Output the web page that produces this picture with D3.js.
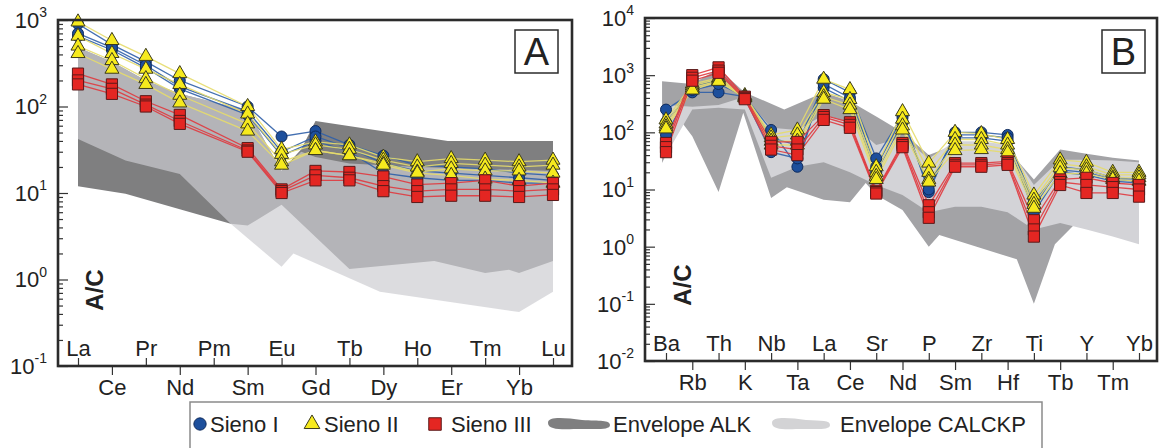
<!DOCTYPE html>
<html><head><meta charset="utf-8">
<script src="https://cdn.jsdelivr.net/npm/d3@7"></script>
<style>
body{margin:0;background:#fff}
svg{display:block}
text{font-family:Arial,"Liberation Sans",sans-serif;fill:#222}
</style>
</head><body>
<svg id="c" width="1159" height="448"></svg>
<script>
// ---------------- DATA ----------------
const reeElements = ["La","Ce","Pr","Nd","Pm","Sm","Eu","Gd","Tb","Dy","Ho","Er","Tm","Yb","Lu"];
// Pm not analysed -> null
const reeSienoI = [
  [900,520,330,200,null,100,45,52,36,27,21,20,19,17,16],
  [650,450,280,160,null,80,27,40,30,17,15,14,14,13,13],
  [700,480,300,170,null,88,30,45,33,22,18,17,16,15,14]
];
const reeSienoII = [
  [950,580,380,240,null,100,32,39,36,26,23,25,24,23,24],
  [650,410,270,180,null,82,28,36,32,24,20,22,21,20,21],
  [500,340,210,135,null,63,23,31,27,22,17.5,19,18,18,17],
  [410,270,180,110,null,52,21,31,27,21,17,16,14.5,14,13]
];
const reeSienoIII = [
  [240,180,115,80,null,33,11,18,17.5,15.5,12.5,13,14,12,13],
  [200,160,105,68,null,31,10.5,16,15,12,10.5,11,11,10.5,11],
  [180,140,100,63,null,30,10,14,14,10.5,9,9.3,9.3,9,9.5]
];
// envelopes [element index, value]
const reeAlkUpper = [[0,480],[1,330],[2,200],[3,140],[5,90],[6,18],[6.58,32],[7,68],[10.9,40],[14,40]];
const reeAlkLower = [[0,12],[1.4,9.8],[3,6.5],[4.5,4.4],[5,4.2],[6,7.3],[8,1.32],[10.5,1.64],[12,1.19],[12.7,1.3],[13,1.19],[14,1.64]];
const reeCalcUpper = [[0,480],[1,330],[2,200],[3,140],[5,90],[6,18],[6.58,30],[7,26],[8,22],[10,20],[14,18]];
const reeCalcLower = [[0,42],[1.4,23.7],[3,16.6],[4.5,4.4],[6,1.4],[6.35,2.0],[8.9,0.72],[13,0.42],[14,0.72]];

const spiderElements = ["Ba","Rb","Th","K","Nb","Ta","La","Ce","Sr","Nd","P","Sm","Zr","Hf","Ti","Tb","Y","Tm","Yb"];
const spiderSienoI = [
  [250,500,500,420,110,25,850,500,35,200,9,100,100,90,5,25,22,16,15],
  [90,650,800,400,45,35,600,350,20,150,12,80,80,70,4,20,18,14,13],
  [150,550,700,430,80,60,700,400,25,180,10,90,90,80,6,22,20,15,14]
];
const spiderSienoII = [
  [165,700,900,440,90,110,850,560,25,230,29,100,95,75,8,33,30,20,20],
  [140,650,850,420,80,90,500,375,20,170,20,75,75,60,6.5,28,25,18,18],
  [125,600,800,410,70,70,420,300,17,130,15,60,60,50,5.5,24,22,16,16],
  [115,550,780,400,60,60,380,250,15,110,13.5,48,50,44,4.7,19,19,15,14]
];
const spiderSienoIII = [
  [65,1000,1370,420,68,68,200,150,9.5,65,5.3,29,29,31,2.9,15,16,13,12],
  [55,900,1200,400,58,50,185,135,9,60,4,27,27,29,2,13.5,12,11,10],
  [45,800,1100,380,50,40,165,120,8.5,55,3.2,25,25,27,1.5,12,8.7,8.7,7.5]
];
const spiderAlkUpper = [[-0.15,780],[1,700],[2,1300],[3,500],[4.5,250],[6,500],[7,350],[8,190],[9,100],[10,40],[11,60],[12,60],[13,50],[14,15],[15,50],[16,42],[17,36],[18,32]];
const spiderAlkLower = [[-0.15,29],[0.6,150],[1,85],[2,9],[2.94,220],[4,7.1],[4.6,11],[6,6.6],[7,6],[7.6,13],[8,8],[9,4.4],[10,1.0],[10.4,1.6],[13.35,0.6],[14,0.1],[14.8,1.1],[15.6,2.6],[16,3],[18,3]];
const spiderCalcUpper = [[0,300],[1,280],[2,300],[3,420],[4,120],[5,110],[6,200],[7,150],[8,60],[9,80],[10,35],[11,70],[12,70],[13,60],[14,12],[15,33],[16,33],[17,32],[18,30]];
const spiderCalcLower = [[0,40],[1,250],[2,270],[3,250],[4,16],[5,25],[6,30],[7,20],[8,12],[9,8],[10,4],[11,5],[12,5],[13,4],[14,2.0],[15,2.6],[16,2.0],[17,1.5],[18,1.1]];

const legendLabels = ["Sieno I","Sieno II","Sieno III","Envelope ALK","Envelope CALCKP"];

// ---------------- STYLE ----------------
const seriesStyle = [
  {sym:d3.symbolCircle,size:95,fill:"#1d4f9c",stroke:"#0e2a5c",line:"#2f5fa8"},
  {sym:d3.symbolTriangle,size:85,fill:"#f6ea1e",stroke:"#3b3a1c",line:"#e6dc6c"},
  {sym:d3.symbolSquare,size:125,fill:"#e42622",stroke:"#5a1a1a",line:"#e0393e"}
];

const svg = d3.select("#c");

function supLabel(g, xPos, yPos, exp){
  const t = g.append("text").attr("x",xPos).attr("y",yPos).attr("text-anchor","end")
    .attr("font-size",22).attr("dy","0.36em");
  t.append("tspan").text("10");
  t.append("tspan").attr("font-size",14).attr("dy","-0.75em").text(exp);
}

function drawPanel(o){
  const g = svg.append("g");
  const x = d3.scaleLinear().domain([0,o.elements.length-1]).range([o.xFirst,o.xLast]);
  const y = d3.scaleLog().domain(o.yDomain).range([o.bottom,o.top]);

  const line = d3.line().x(d=>x(d[0])).y(d=>y(d[1]));
  const env = (up,low)=> line(up.concat(low.slice().reverse())) + "Z";

  // envelopes
  g.append("path").attr("d",env(o.alkU,o.alkL)).attr("fill",o.alkFill);
  g.append("path").attr("d",env(o.calcU,o.calcL)).attr("fill",o.calcFill).attr("fill-opacity",o.calcOpacity);

  // sample lines
  o.series.forEach((samples,si)=>{
    samples.forEach(s=>{
      const pts = s.map((v,i)=>[i,v]).filter(d=>d[1]!=null);
      g.append("path").attr("d",line(pts)).attr("fill","none")
        .attr("stroke",seriesStyle[si].line).attr("stroke-width",1.3).attr("stroke-opacity",0.9);
    });
  });
  // markers
  o.series.forEach((samples,si)=>{
    const st = seriesStyle[si];
    const sym = d3.symbol().type(st.sym).size(st.size);
    samples.forEach(s=>{
      s.forEach((v,i)=>{
        if(v==null) return;
        g.append("path").attr("d",sym()).attr("transform",`translate(${x(i)},${y(v)})`)
          .attr("fill",st.fill).attr("stroke",st.stroke).attr("stroke-width",1);
      });
    });
  });

  // y ticks (inside)
  const [lo,hi] = o.yDomain;
  const major=[], minor=[];
  for(let e=Math.round(Math.log10(lo)); e<=Math.round(Math.log10(hi)); e++){
    major.push(Math.pow(10,e));
    if(e<Math.round(Math.log10(hi))) for(let k=2;k<=9;k++) minor.push(k*Math.pow(10,e));
  }
  const ya = g.append("g").attr("transform",`translate(${o.left},0)`);
  ya.call(d3.axisRight(y).tickValues(major).tickSize(10).tickFormat(""));
  ya.call(g2=>g2.select(".domain").remove());
  const ym = g.append("g").attr("transform",`translate(${o.left},0)`);
  ym.call(d3.axisRight(y).tickValues(minor).tickSize(5).tickFormat(""));
  ym.call(g2=>g2.select(".domain").remove());
  g.selectAll(".tick line").attr("stroke","#333").attr("stroke-width",1.2);
  major.forEach(v=>supLabel(g,o.labelRight,y(v),String(Math.round(Math.log10(v)))));

  // x axis: alternate labels above / below
  const idx = d3.range(o.elements.length);
  const up = g.append("g").attr("transform",`translate(0,${o.bottom})`)
    .call(d3.axisTop(x).tickValues(idx.filter(i=>i%2===0)).tickSize(8).tickPadding(2).tickFormat(i=>o.elements[i]));
  const dn = g.append("g").attr("transform",`translate(0,${o.bottom})`)
    .call(d3.axisBottom(x).tickValues(idx.filter(i=>i%2===1)).tickSize(9).tickPadding(4).tickFormat(i=>o.elements[i]));
  [up,dn].forEach(a=>{
    a.select(".domain").remove();
    a.selectAll("text").attr("font-size",22).attr("fill","#222").attr("font-family",'Arial,"Liberation Sans",sans-serif');
    a.selectAll("line").attr("stroke","#333").attr("stroke-width",1.2);
  });

  // frame
  g.append("rect").attr("x",o.left).attr("y",o.top).attr("width",o.right-o.left).attr("height",o.bottom-o.top)
    .attr("fill","none").attr("stroke","#2b2b2b").attr("stroke-width",2.6);

  // A/C
  g.append("text").attr("transform",`translate(${o.acX},${o.acY}) rotate(-90)`)
    .attr("text-anchor","middle").attr("font-size",24).attr("font-weight","bold").attr("dy","0.35em").text("A/C");

  // panel letter
  g.append("rect").attr("x",o.boxX).attr("y",30).attr("width",43).attr("height",43)
    .attr("fill","#fff").attr("stroke","#2b2b2b").attr("stroke-width",1.5);
  g.append("text").attr("x",o.boxX+21.5).attr("y",65).attr("text-anchor","middle")
    .attr("font-size",38).attr("fill","#111").text(o.letter);
}

drawPanel({elements:reeElements,series:[reeSienoI,reeSienoII,reeSienoIII],
  xFirst:78,xLast:553,left:58,right:572,top:20,bottom:366,yDomain:[0.1,1000],labelRight:47,
  alkU:reeAlkUpper,alkL:reeAlkLower,calcU:reeCalcUpper,calcL:reeCalcLower,
  alkFill:"#7f7f80",calcFill:"#cdcdd1",calcOpacity:0.69,acX:95,acY:290,boxX:515,letter:"A"});

drawPanel({elements:spiderElements,series:[spiderSienoI,spiderSienoII,spiderSienoIII],
  xFirst:666,xLast:1139,left:645,right:1157,top:18,bottom:361,yDomain:[0.01,10000],labelRight:634,
  alkU:spiderAlkUpper,alkL:spiderAlkLower,calcU:spiderCalcUpper,calcL:spiderCalcLower,
  alkFill:"#a3a3a6",calcFill:"#d3d3d7",calcOpacity:1,acX:683,acY:285,boxX:1102,letter:"B"});

// ---------------- LEGEND ----------------
const lg = svg.append("g");
lg.append("rect").attr("x",190).attr("y",402).attr("width",852).attr("height",60)
  .attr("fill","#fff").attr("stroke","#8a8a8a").attr("stroke-width",1.5);
const ly = 424;
[[200,0],[312,1],[435,2]].forEach(([lx,si])=>{
  const st = seriesStyle[si];
  lg.append("path").attr("d",d3.symbol().type(st.sym).size(st.size*1.25)()).attr("transform",`translate(${lx},${ly})`)
    .attr("fill",st.fill).attr("stroke",st.stroke).attr("stroke-width",1);
});
lg.append("path").attr("d",`M548,${ly-1} C548,${ly-8} 565,${ly-6} 582,${ly-4} C600,${ly-3} 610,${ly-4} 610,${ly+1} C610,${ly+6} 598,${ly+5} 582,${ly+5} C565,${ly+5} 548,${ly+7} 548,${ly-1} Z`).attr("fill","#7f7f80");
lg.append("path").attr("d",`M772,${ly-1} C772,${ly-8} 790,${ly-6} 806,${ly-4} C822,${ly-3} 830,${ly-4} 830,${ly+1} C830,${ly+6} 818,${ly+5} 804,${ly+5} C788,${ly+5} 772,${ly+7} 772,${ly-1} Z`).attr("fill","#d3d3d5");
[[210,0],[324,1],[451,2],[613,3],[840,4]].forEach(([lx,i])=>{
  lg.append("text").attr("x",lx).attr("y",ly).attr("dy","0.36em").attr("font-size",22).text(legendLabels[i]);
});
</script>
</body></html>
